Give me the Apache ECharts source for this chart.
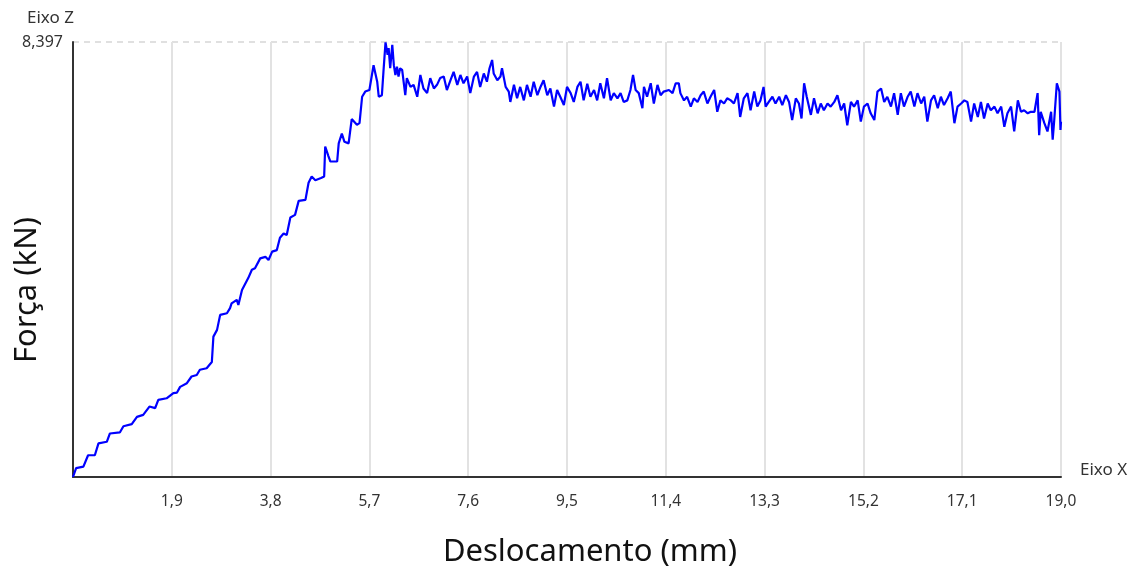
<!DOCTYPE html>
<html>
<head>
<meta charset="utf-8">
<script src="https://cdn.jsdelivr.net/npm/echarts@6/dist/echarts.min.js"></script>
<style>
  html, body { margin: 0; padding: 0; background: #fff; }
  #chart { width: 1134px; height: 571px; }
</style>
</head>
<body>
<div id="chart"></div>
<script>
// Deslocamento (mm) x Força (kN).
const deslocamento = [
  0.00, 0.06, 0.20, 0.29, 0.42, 0.49, 0.65, 0.71, 0.90, 0.97, 1.13, 1.23, 1.35, 1.47, 1.58, 1.64, 1.80, 1.93, 2.00,
  2.06, 2.19, 2.28, 2.38, 2.44, 2.57, 2.67, 2.70, 2.77, 2.83, 2.96, 3.02, 3.05, 3.15, 3.18, 3.25, 3.37, 3.44, 3.50,
  3.60, 3.70, 3.76, 3.83, 3.92, 3.98, 4.05, 4.11, 4.18, 4.27, 4.34, 4.47, 4.53, 4.59, 4.66, 4.77, 4.83, 4.85, 4.91,
  4.95, 5.08, 5.11, 5.17, 5.22, 5.30, 5.36, 5.46, 5.51, 5.56, 5.62, 5.70, 5.78, 5.85, 5.88, 5.94, 5.97, 6.01, 6.05,
  6.07, 6.10, 6.14, 6.17, 6.20, 6.23, 6.26, 6.29, 6.33, 6.39, 6.42, 6.49, 6.55, 6.62, 6.68, 6.74, 6.81, 6.87, 6.94,
  7.00, 7.06, 7.13, 7.19, 7.26, 7.32, 7.39, 7.45, 7.51, 7.58, 7.64, 7.71, 7.77, 7.83, 7.90, 7.96, 8.01, 8.06, 8.09,
  8.16, 8.22, 8.25, 8.32, 8.38, 8.41, 8.48, 8.54, 8.60, 8.67, 8.73, 8.80, 8.86, 8.93, 8.99, 9.05, 9.12, 9.18, 9.25,
  9.31, 9.37, 9.44, 9.50, 9.57, 9.63, 9.70, 9.76, 9.82, 9.89, 9.95, 10.02, 10.08, 10.14, 10.21, 10.27, 10.34, 10.40,
  10.47, 10.53, 10.59, 10.66, 10.72, 10.77, 10.82, 10.88, 10.95, 10.98, 11.04, 11.11, 11.17, 11.24, 11.30, 11.36,
  11.46, 11.53, 11.59, 11.65, 11.68, 11.75, 11.81, 11.88, 11.94, 12.01, 12.07, 12.13, 12.20, 12.26, 12.33, 12.39,
  12.45, 12.52, 12.58, 12.65, 12.71, 12.78, 12.83, 12.90, 12.97, 13.03, 13.10, 13.16, 13.22, 13.28, 13.32, 13.38,
  13.45, 13.51, 13.58, 13.64, 13.71, 13.77, 13.83, 13.90, 13.96, 14.01, 14.06, 14.11, 14.19, 14.25, 14.32, 14.38,
  14.44, 14.51, 14.57, 14.64, 14.70, 14.77, 14.83, 14.89, 14.96, 15.02, 15.09, 15.15, 15.21, 15.28, 15.34, 15.41,
  15.47, 15.54, 15.60, 15.66, 15.73, 15.79, 15.86, 15.92, 15.98, 16.05, 16.11, 16.18, 16.24, 16.31, 16.37, 16.43,
  16.50, 16.56, 16.63, 16.69, 16.75, 16.82, 16.88, 16.95, 17.01, 17.08, 17.14, 17.20, 17.27, 17.33, 17.40, 17.46,
  17.52, 17.59, 17.65, 17.72, 17.78, 17.85, 17.91, 17.97, 18.04, 18.10, 18.17, 18.23, 18.29, 18.36, 18.42, 18.49,
  18.55, 18.58, 18.61, 18.68, 18.74, 18.81, 18.84, 18.87, 18.92, 18.97, 18.99, 19.00
];
const forca = [
  0.00, 0.17, 0.20, 0.42, 0.42, 0.65, 0.68, 0.84, 0.86, 0.98, 1.02, 1.16, 1.20, 1.36, 1.33, 1.49, 1.52, 1.62, 1.63,
  1.74, 1.81, 1.94, 1.97, 2.07, 2.10, 2.22, 2.71, 2.84, 3.13, 3.16, 3.26, 3.35, 3.42, 3.32, 3.61, 3.84, 4.00, 4.03,
  4.22, 4.25, 4.19, 4.35, 4.38, 4.62, 4.70, 4.67, 5.01, 5.06, 5.33, 5.35, 5.68, 5.80, 5.73, 5.77, 5.80, 6.38, 6.20,
  6.09, 6.09, 6.44, 6.63, 6.47, 6.44, 6.91, 6.80, 6.83, 7.34, 7.44, 7.47, 7.95, 7.63, 7.34, 7.37, 7.82, 8.39, 8.15,
  8.28, 7.89, 8.34, 7.95, 7.76, 7.92, 7.73, 7.89, 7.86, 7.37, 7.70, 7.53, 7.57, 7.34, 7.76, 7.50, 7.41, 7.70, 7.50,
  7.57, 7.70, 7.73, 7.47, 7.66, 7.82, 7.57, 7.76, 7.60, 7.73, 7.41, 7.73, 7.82, 7.53, 7.79, 7.63, 7.89, 8.05, 7.79,
  7.66, 7.73, 7.89, 7.53, 7.44, 7.24, 7.57, 7.31, 7.53, 7.27, 7.57, 7.34, 7.63, 7.37, 7.53, 7.66, 7.37, 7.50, 7.15,
  7.47, 7.34, 7.18, 7.53, 7.41, 7.24, 7.53, 7.63, 7.27, 7.59, 7.34, 7.47, 7.27, 7.60, 7.31, 7.70, 7.27, 7.41,
  7.31, 7.41, 7.24, 7.27, 7.47, 7.76, 7.47, 7.41, 7.12, 7.53, 7.34, 7.60, 7.21, 7.57, 7.37, 7.44,
  7.47, 7.41, 7.60, 7.60, 7.41, 7.27, 7.34, 7.15, 7.31, 7.24, 7.37, 7.44, 7.21, 7.34, 7.47, 7.05,
  7.27, 7.21, 7.31, 7.27, 7.21, 7.41, 6.95, 7.31, 7.41, 7.08, 7.44, 7.15, 7.27, 7.53, 7.15, 7.24,
  7.34, 7.21, 7.34, 7.18, 7.37, 7.24, 6.89, 7.31, 7.21, 6.92, 7.60, 7.34, 6.99, 7.31, 7.02, 7.21,
  7.08, 7.21, 7.15, 7.24, 7.37, 7.08, 7.21, 6.79, 7.24, 7.15, 7.27, 6.86, 7.15, 7.21, 7.02, 6.89,
  7.44, 7.50, 7.24, 7.34, 7.15, 7.41, 6.99, 7.41, 7.15, 7.34, 7.44, 7.15, 7.41, 7.21, 7.34, 6.86,
  7.27, 7.37, 7.12, 7.34, 7.18, 7.31, 7.44, 6.83, 7.15, 7.21, 7.27, 7.24, 6.86, 7.21, 6.95, 7.24,
  6.92, 7.21, 7.08, 7.15, 7.02, 7.15, 6.76, 7.02, 7.15, 6.67, 7.27, 7.05, 7.08, 7.02, 7.05, 7.05,
  7.41, 6.60, 7.05, 6.83, 6.67, 7.05, 6.51, 6.89, 7.60, 7.44, 6.70, 6.86
];
const xMin = 0;
const xMax = 19.0;
const xStep = 1.9;
const yMax = 8.397;

const fmt = (v, d) => v.toFixed(d).replace('.', ',');

const chart = echarts.init(document.getElementById('chart'), null, { renderer: 'canvas' });
chart.setOption({
  animation: false,
  backgroundColor: '#ffffff',
  textStyle: { fontFamily: 'Noto Sans' },
  grid: { left: 73, right: 73, top: 42, bottom: 94, containLabel: false },
  xAxis: {
    type: 'value',
    min: xMin,
    max: xMax,
    interval: xStep,
    axisLine: { onZero: false, lineStyle: { color: '#333', width: 2 } },
    axisTick: { show: false },
    axisLabel: {
      color: '#333',
      fontSize: 15.5,
      margin: 17,
      formatter: (v) => (v === 0 ? '' : fmt(v, 1))
    },
    splitLine: { show: true, lineStyle: { color: '#e2e2e2', width: 2 } }
  },
  yAxis: {
    type: 'value',
    min: 0,
    max: yMax,
    interval: yMax,
    axisLine: { show: true, lineStyle: { color: '#333', width: 2 } },
    axisTick: { show: false },
    axisLabel: {
      color: '#333',
      fontSize: 16,
      margin: 10,
      formatter: (v) => (v === 0 ? '' : fmt(v, 3))
    },
    splitLine: { show: true, lineStyle: { color: '#d6d6d6', width: 1.5, type: [6, 5] } }
  },
  graphic: [
    { type: 'text', x: 27, y: 18, style: { text: 'Eixo Z', fontSize: 17, fill: '#333', fontFamily: 'Noto Sans', verticalAlign: 'middle' } },
    { type: 'text', x: 1080, y: 470, style: { text: 'Eixo X', fontSize: 17, fill: '#333', fontFamily: 'Noto Sans', verticalAlign: 'middle' } },
    {
      type: 'text', x: 590, y: 552,
      style: { text: 'Deslocamento (mm)', fontSize: 31, fill: '#111', fontFamily: 'Noto Sans', align: 'center', verticalAlign: 'middle' }
    },
    {
      type: 'text', x: 27, y: 290, rotation: Math.PI / 2,
      style: { text: 'Força (kN)', fontSize: 31, fill: '#111', fontFamily: 'Noto Sans', align: 'center', verticalAlign: 'middle' }
    }
  ],
  series: [
    {
      type: 'line',
      data: deslocamento.map((x, i) => [x, forca[i]]),
      showSymbol: false,
      smooth: false,
      lineStyle: { color: '#0000ff', width: 2.2 }
    }
  ]
});
</script>
</body>
</html>
